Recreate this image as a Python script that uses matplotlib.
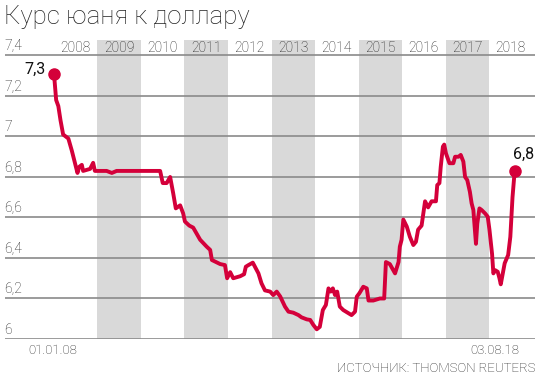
import matplotlib.pyplot as plt
import numpy as np

# decimal years and CNY per USD
dates = [2008.00, 2008.05, 2008.10, 2008.15, 2008.21, 2008.33, 2008.41, 2008.48, 2008.54, 2008.58,
         2008.64, 2008.67, 2008.83, 2008.90, 2008.94, 2009.21, 2009.33, 2009.44, 2009.98, 2010.21,
         2010.44, 2010.50, 2010.59, 2010.67, 2010.74, 2010.80, 2010.90, 2010.97, 2011.01, 2011.11,
         2011.20, 2011.36, 2011.51, 2011.59, 2011.63, 2011.82, 2011.93, 2011.98, 2012.05, 2012.12,
         2012.28, 2012.37, 2012.41, 2012.47, 2012.57, 2012.62, 2012.70, 2012.77, 2012.85, 2012.97,
         2013.04, 2013.12, 2013.20, 2013.31, 2013.39, 2013.50, 2013.62, 2013.69, 2013.81, 2013.89,
         2013.96, 2014.04, 2014.11, 2014.18, 2014.25, 2014.31, 2014.36, 2014.41, 2014.46, 2014.51,
         2014.57, 2014.65, 2014.77, 2014.84, 2014.92, 2014.96, 2015.02, 2015.11, 2015.19, 2015.23,
         2015.34, 2015.49, 2015.59, 2015.63, 2015.72, 2015.84, 2015.92, 2015.95, 2015.99, 2016.03,
         2016.11, 2016.18, 2016.26, 2016.32, 2016.37, 2016.45, 2016.53, 2016.60, 2016.68, 2016.78,
         2016.81, 2016.86, 2016.89, 2016.94, 2016.97, 2017.01, 2017.09, 2017.18, 2017.22, 2017.30,
         2017.35, 2017.41, 2017.45, 2017.50, 2017.56, 2017.60, 2017.64, 2017.70, 2017.73, 2017.78,
         2017.83, 2017.91, 2017.97, 2018.01, 2018.07, 2018.10, 2018.14, 2018.20, 2018.24, 2018.27,
         2018.31, 2018.36, 2018.44, 2018.49, 2018.54, 2018.59]
rates = [7.31, 7.18, 7.15, 7.08, 7.01, 6.99, 6.93, 6.87, 6.82, 6.85,
         6.86, 6.83, 6.84, 6.87, 6.83, 6.83, 6.82, 6.83, 6.83, 6.83,
         6.83, 6.77, 6.77, 6.80, 6.72, 6.645, 6.66, 6.62, 6.58, 6.56,
         6.55, 6.49, 6.456, 6.44, 6.39, 6.37, 6.365, 6.30, 6.33, 6.30,
         6.31, 6.32, 6.357, 6.365, 6.377, 6.357, 6.324, 6.275, 6.24, 6.234,
         6.217, 6.234, 6.21, 6.16, 6.135, 6.13, 6.118, 6.107, 6.097, 6.094,
         6.07, 6.048, 6.06, 6.143, 6.168, 6.25, 6.234, 6.25, 6.217, 6.234,
         6.16, 6.143, 6.127, 6.118, 6.135, 6.209, 6.226, 6.258, 6.25, 6.19,
         6.19, 6.20, 6.20, 6.38, 6.37, 6.324, 6.38, 6.456, 6.49, 6.59,
         6.555, 6.505, 6.464, 6.48, 6.54, 6.56, 6.68, 6.65, 6.68, 6.68,
         6.76, 6.77, 6.85, 6.95, 6.96, 6.917, 6.868, 6.868, 6.90, 6.90,
         6.909, 6.876, 6.80, 6.785, 6.727, 6.67, 6.637, 6.47, 6.57, 6.645,
         6.637, 6.62, 6.604, 6.54, 6.42, 6.324, 6.34, 6.332, 6.30, 6.27,
         6.316, 6.374, 6.415, 6.505, 6.70, 6.83]

years = list(range(2008, 2019))
shaded_years = [2009, 2011, 2013, 2015, 2017]
y_ticks = [6, 6.2, 6.4, 6.6, 6.8, 7, 7.2, 7.4]
y_labels = ['6', '6,2', '6,4', '6,6', '6,8', '7', '7,2', '7,4']

RED = '#d4003a'
TXT = '#222222'
FONT = 'Roboto'

fig = plt.figure(figsize=(5.41, 3.80), dpi=100)
ax = fig.add_axes([5 / 541, 41 / 380, 530 / 541, 299 / 380])
ax.set_xlim(2006.874, 2019.057)
ax.set_ylim(6, 7.4765)
ax.axis('off')

for yr in shaded_years:
    ax.axvspan(yr, yr + 1, color='#d9d9d9', lw=0, zorder=0)

for t, lab in zip(y_ticks, y_labels):
    ax.axhline(t, color='#8a8a8a', lw=1.2, zorder=1)
    ax.text(2006.874 - 0.02, t + 0.01, lab, ha='left', va='bottom', fontsize=10,
            color=TXT, family=FONT, fontweight='light')

for yr in years:
    ax.text(yr + 0.5, 7.437, str(yr), ha='center', va='center', fontsize=10,
            color=TXT, family=FONT, fontweight='light')

ax.plot(dates, rates, color=RED, lw=2.8, solid_joinstyle='round', zorder=3)
ax.plot([dates[0], dates[-1]], [rates[0], rates[-1]], 'o', color=RED, ms=8,
        zorder=4, clip_on=False)

ax.text(dates[0] - 0.2, rates[0] + 0.02, '7,3', ha='right', va='center', fontsize=11.5,
        color='#111111', family=FONT)
ax.text(dates[-1] + 0.2, rates[-1] + 0.08, '6,8', ha='center', va='center', fontsize=11.5,
        color='#111111', family=FONT)

fig.text(4 / 541, 1 - 17 / 380, 'Курс юаня к доллару', ha='left', va='center',
         fontsize=18.5, color=TXT, family=FONT, fontweight='light')
fig.text(53 / 541, 1 - 350 / 380, '01.01.08', ha='center', va='center', fontsize=9.5,
         color=TXT, family=FONT, fontweight='light')
fig.text(519 / 541, 1 - 350 / 380, '03.08.18', ha='right', va='center', fontsize=9.5,
         color=TXT, family=FONT, fontweight='light')
fig.text(535 / 541, 1 - 369 / 380, 'ИСТОЧНИК: THOMSON REUTERS', ha='right', va='center',
         fontsize=9.5, color=TXT, family=FONT, fontweight='light')

fig.savefig('out.png', dpi=100)
